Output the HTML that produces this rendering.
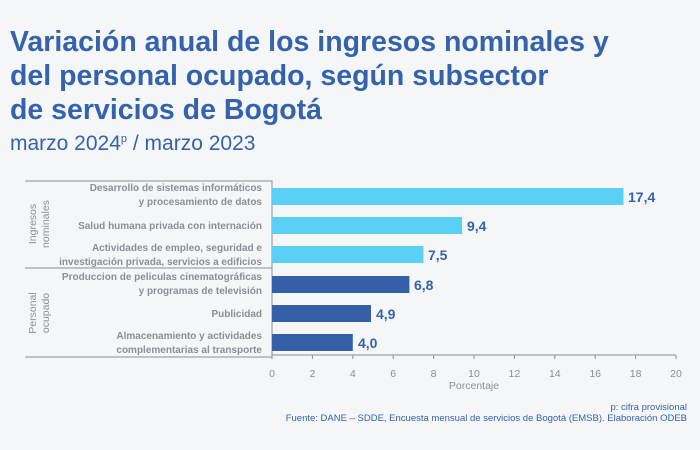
<!DOCTYPE html>
<html><head><meta charset="utf-8"><style>
body{margin:0;width:700px;height:450px;background:#f5f6f7;overflow:hidden;font-family:"Liberation Sans",sans-serif;position:relative}
.t{position:absolute;left:10px;color:#3462ab;font-weight:bold;font-size:28.5px;line-height:34px;top:25px}
.s{position:absolute;left:10px;top:132px;color:#3462ab;font-size:21px}
svg{position:absolute;left:0;top:0}
</style></head><body>
<div class="t">Variación anual de los ingresos nominales y<br>del personal ocupado, según subsector<br>de servicios de Bogotá</div>
<div class="s">marzo 2024<sup style="font-size:11px">p</sup> / marzo 2023</div>
<svg width="700" height="450" font-family="Liberation Sans, sans-serif">
<g stroke="#8a8f96" fill="none" stroke-width="1">
<path d="M25 181H272V357M25 268H272M25 357H272"/>
<path d="M272 355H676"/>
<path d="M272 355v4M312.4 355v4M352.8 355v4M393.2 355v4M433.6 355v4M474 355v4M514.4 355v4M554.8 355v4M595.2 355v4M635.6 355v4M676 355v4"/>
</g>
<g fill="#5bd0f5"><rect x="272" y="188" width="351.5" height="17"/><rect x="272" y="217" width="190" height="17"/><rect x="272" y="246" width="151.5" height="17"/></g>
<g fill="#3560a8"><rect x="272" y="276" width="137.4" height="17"/><rect x="272" y="305" width="99" height="17"/><rect x="272" y="334" width="80.8" height="17"/></g>
<g fill="#3462ab" font-size="14" font-weight="bold">
<text x="628" y="202">17,4</text><text x="467" y="231">9,4</text><text x="428" y="260">7,5</text>
<text x="414" y="290">6,8</text><text x="376" y="319">4,9</text><text x="358" y="348">4,0</text></g>
<g fill="#8a8f96" font-size="10" text-anchor="end" font-weight="bold">
<text x="262" y="191">Desarrollo de sistemas informáticos</text><text x="262" y="205">y procesamiento de datos</text>
<text x="262" y="229">Salud humana privada con internación</text>
<text x="262" y="251">Actividades de empleo, seguridad e</text><text x="262" y="265">investigación privada, servicios a edificios</text>
<text x="262" y="280">Produccion de peliculas cinematográficas</text><text x="262" y="294">y programas de televisión</text>
<text x="262" y="317">Publicidad</text>
<text x="262" y="339">Almacenamiento y actividades</text><text x="262" y="353">complementarias al transporte</text></g>
<g fill="#8a8f96" font-size="10.5" text-anchor="middle">
<text transform="translate(36,224) rotate(-90)">Ingresos</text><text transform="translate(49,224) rotate(-90)">nominales</text>
<text transform="translate(36,313) rotate(-90)">Personal</text><text transform="translate(49,313) rotate(-90)">ocupado</text>
<text x="272" y="377">0</text><text x="312.4" y="377">2</text><text x="352.8" y="377">4</text><text x="393.2" y="377">6</text><text x="433.6" y="377">8</text><text x="474" y="377">10</text><text x="514.4" y="377">12</text><text x="554.8" y="377">14</text><text x="595.2" y="377">16</text><text x="635.6" y="377">18</text><text x="676" y="377">20</text>
<text x="474" y="389">Porcentaje</text></g>
<g fill="#3462ab" font-size="9.5" text-anchor="end">
<text x="687" y="410">p: cifra provisional</text>
<text x="687" y="421">Fuente: DANE – SDDE, Encuesta mensual de servicios de Bogotá (EMSB). Elaboración ODEB</text></g>
</svg>
</body></html>
